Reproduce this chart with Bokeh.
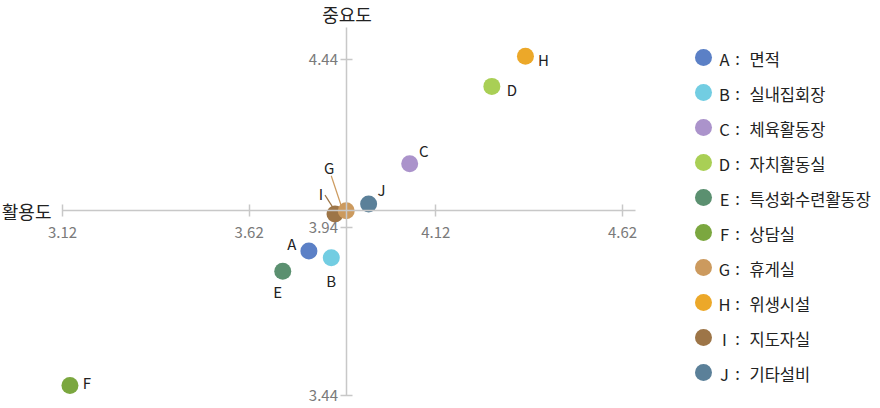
import numpy as np
from bokeh.plotting import figure
from bokeh.models import (LinearAxis, FixedTicker, PrintfTickFormatter,
                          ColumnDataSource, Range1d)
from bokeh.core.properties import value
from bokeh.embed import file_html
from bokeh.resources import INLINE

# ---------------- data ----------------
codes = ["A", "B", "C", "D", "E", "F", "G", "H", "I", "J"]
names = ["면적", "실내집회장", "체육활동장", "자치활동실", "특성화수련활동장",
         "상담실", "휴게실", "위생시설", "지도자실", "기타설비"]
usage = [3.78, 3.84, 4.05, 4.27, 3.71, 3.14, 3.88, 4.36, 3.85, 3.94]        # 활용도 (x)
importance = [3.87, 3.85, 4.13, 4.36, 3.81, 3.47, 3.99, 4.45, 3.98, 4.01]   # 중요도 (y)
colors = ["#5b80c6", "#72cde2", "#ab93cb", "#a9cf55", "#5b9070",
          "#7ba73f", "#cc9a5e", "#eca829", "#9d7547", "#5b8099"]
x_ticks = [3.12, 3.62, 4.12, 4.62]
y_ticks = [3.44, 3.94, 4.44]
x_title = "활용도"
y_title = "중요도"

# ---------------- style ----------------
FONT = "Noto Sans CJK KR"
W, H = 880, 408
X0, X1 = 2.954, 5.311
Y0, Y1 = 3.4013, 4.6156
kx = W / (X1 - X0)
ky = H / (Y1 - Y0)
# label pixel offsets (dx, dy; +dy = down)
label_off = {"A": (-17, -8), "B": (0, 23), "C": (14, -13), "D": (20, 3), "E": (-5, 20),
             "F": (17, -3), "G": (-17, -43), "H": (18, 3), "I": (-14, -21), "J": (13, -14)}
# leader lines for crowded labels: (start dx, dy) -> (end dx, dy)
leaders = {"G": ((-15, -35), (-5, -5)), "I": ((-10, -19), (-3, -8))}
draw_order = ["A", "B", "C", "D", "E", "F", "H", "I", "J", "G"]

xm = float(np.mean(usage))
ym = float(np.mean(importance))

p = figure(width=W, height=H, output_backend="svg", toolbar_location=None,
           x_range=Range1d(X0, X1), y_range=Range1d(Y0, Y1),
           x_axis_type=None, y_axis_type=None, min_border=0)
p.outline_line_color = None
p.grid.visible = False
p.background_fill_color = "white"

# legend coordinate system: 1 row = 35 px, 1 x-unit = 1 px, origin at first marker
p.extra_x_ranges = {"leg": Range1d(-703, W - 703)}
p.extra_y_ranges = {"leg": Range1d(57 / 35 - H / 35, 57 / 35)}

axis_style = dict(axis_line_color="#c8c8c8", axis_line_width=1.5,
                  major_tick_line_color="#c8c8c8", major_tick_line_width=1.5,
                  major_tick_in=6, major_tick_out=6,
                  minor_tick_line_color=None,
                  major_label_text_font=FONT, major_label_text_font_size="15px",
                  major_label_text_color="#7a7a7a",
                  formatter=PrintfTickFormatter(format="%.2f"))

xaxis = LinearAxis(fixed_location=ym, ticker=FixedTicker(ticks=x_ticks),
                   bounds=(x_ticks[0], 4.655), major_label_standoff=11, **axis_style)
yaxis = LinearAxis(fixed_location=xm, ticker=FixedTicker(ticks=y_ticks),
                   bounds=(y_ticks[0], 4.535), major_label_standoff=3, **axis_style)
p.add_layout(xaxis, "below")
p.add_layout(yaxis, "left")

# axis titles
p.text(x=[x_ticks[0]], y=[ym], text=[x_title], x_offset=-11, y_offset=1,
       text_align="right", text_baseline="middle", text_font=value(FONT),
       text_font_size="18px", text_color="#222222")
p.text(x=[xm], y=[4.535], text=[y_title], y_offset=-14,
       text_align="center", text_baseline="middle", text_font=value(FONT),
       text_font_size="18px", text_color="#222222")

# leader lines
for c, ((sx, sy), (ex, ey)) in leaders.items():
    i = codes.index(c)
    p.segment(x0=[usage[i] + sx / kx], y0=[importance[i] - sy / ky],
              x1=[usage[i] + ex / kx], y1=[importance[i] - ey / ky],
              line_color=colors[i], line_width=1.2)

# points
for c in draw_order:
    i = codes.index(c)
    src = ColumnDataSource(dict(x=[usage[i]], y=[importance[i]]))
    p.scatter("x", "y", source=src, size=17, marker="circle",
              fill_color=colors[i], line_color=None)

# point labels
for i, c in enumerate(codes):
    dx, dy = label_off[c]
    p.text(x=[usage[i]], y=[importance[i]], text=[c], x_offset=dx, y_offset=dy,
           text_align="center", text_baseline="middle", text_font=value(FONT),
           text_font_size="15px", text_color="#222222")

# legend (drawn through the 'leg' ranges)
leg = ColumnDataSource(dict(x=[0] * len(codes), y=[-i for i in range(len(codes))],
                            code=codes, name=names, color=colors,
                            colon=[":"] * len(codes)))
p.scatter("x", "y", source=leg, size=17, marker="circle", fill_color="color",
          line_color=None, x_range_name="leg", y_range_name="leg")
common = dict(source=leg, x_range_name="leg", y_range_name="leg",
              text_baseline="middle", text_font=value(FONT),
              text_font_size="16.5px", text_color="#222222")
p.text("x", "y", text="code", x_offset=21, y_offset=1, text_align="center", **common)
p.text("x", "y", text="colon", x_offset=34, y_offset=0, text_align="center", **common)
p.text("x", "y", text="name", x_offset=46, y_offset=1, text_align="left", **common)

open("out.html", "w").write(file_html(p, INLINE))
